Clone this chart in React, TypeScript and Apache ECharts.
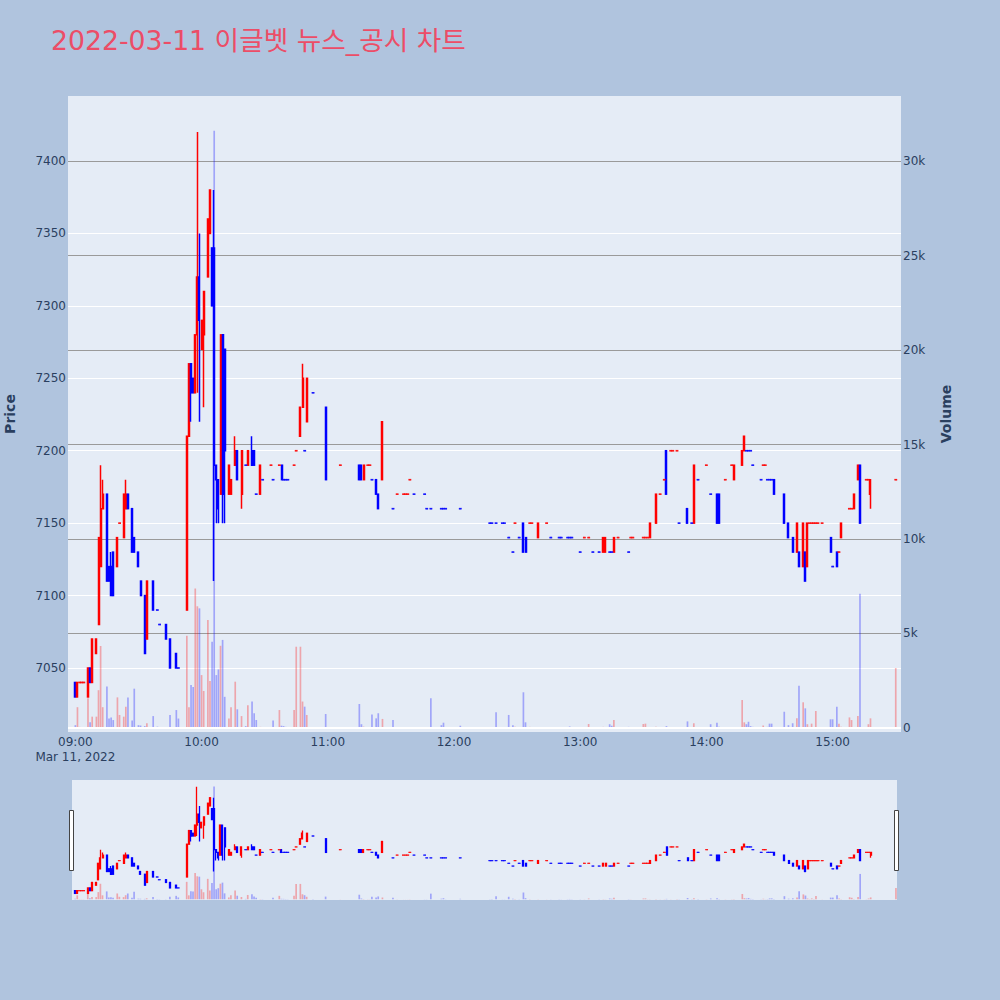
import * as echarts from 'echarts';
import { useEffect, useRef } from 'react';

const TITLE = '2022-03-11 이글벳 뉴스_공시 차트';
const DATE_LABEL = 'Mar 11, 2022';

// minute offset from 09:00 for every traded minute
const minuteIdx = [
  0, 1, 2, 3, 4, 6, 7, 8, 10, 11,
  12, 13, 15, 16, 17, 18, 20, 21, 23, 24,
  25, 27, 28, 30, 31, 33, 34, 37, 39, 40,
  43, 45, 48, 49, 53, 54, 55, 56, 57, 58,
  59, 60, 61, 63, 64, 65, 66, 67, 68, 69,
  70, 71, 73, 74, 76, 77, 79, 81, 82, 84,
  85, 86, 88, 89, 93, 94, 97, 98, 99, 100,
  101, 104, 105, 107, 108, 109, 110, 113, 119, 126,
  135, 136, 137, 139, 140, 141, 143, 144, 146, 151,
  153, 156, 157, 158, 159, 161, 166, 167, 169, 174,
  175, 176, 183, 197, 198, 200, 203, 204, 206, 208,
  209, 211, 213, 214, 216, 217, 220, 224, 226, 230,
  231, 234, 235, 236, 240, 242, 244, 246, 249, 251,
  252, 254, 255, 256, 258, 263, 264, 265, 270, 271,
  272, 273, 276, 278, 280, 281, 283, 284, 286, 287,
  291, 293, 294, 296, 300, 302, 305, 306, 309, 312,
  313, 317, 318, 319, 320, 321, 322, 326, 327, 328,
  329, 330, 331, 332, 337, 339, 341, 343, 344, 346,
  347, 348, 349, 350, 351, 352, 353, 355, 359, 360,
  362, 363, 364, 368, 369, 370, 372, 373, 376, 377, 378, 390,
];

const openP = [
  7040, 7030, 7040, 7040, 7040, 7030, 7050, 7040, 7060, 7080,
  7120, 7160, 7170, 7120, 7120, 7130, 7120, 7150, 7140, 7160,
  7170, 7160, 7140, 7130, 7110, 7100, 7070, 7110, 7090, 7080,
  7080, 7070, 7060, 7050, 7090, 7210, 7260, 7250, 7240, 7280,
  7320, 7270, 7280, 7320, 7350, 7340, 7340, 7190, 7180, 7170,
  7280, 7270, 7170, 7170, 7190, 7200, 7170, 7190, 7190, 7200,
  7200, 7170, 7170, 7180, 7190, 7180, 7190, 7190, 7180, 7180,
  7180, 7190, 7200, 7210, 7230, 7200, 7220, 7240, 7230, 7190,
  7190, 7190, 7180, 7190, 7190, 7180, 7180, 7170, 7180, 7160,
  7170, 7170, 7170, 7170, 7180, 7170, 7170, 7160, 7160, 7160,
  7160, 7160, 7160, 7150, 7150, 7150, 7150, 7150, 7140, 7130,
  7150, 7140, 7150, 7140, 7150, 7150, 7140, 7150, 7140, 7140,
  7140, 7140, 7140, 7140, 7130, 7140, 7140, 7130, 7130, 7130,
  7130, 7130, 7130, 7130, 7140, 7130, 7140, 7140, 7140, 7140,
  7140, 7140, 7150, 7170, 7180, 7200, 7200, 7200, 7200, 7150,
  7160, 7150, 7150, 7180, 7190, 7170, 7170, 7170, 7180, 7190,
  7180, 7190, 7200, 7200, 7200, 7200, 7190, 7180, 7190, 7190,
  7180, 7180, 7180, 7180, 7170, 7150, 7140, 7130, 7130, 7120,
  7130, 7120, 7150, 7150, 7150, 7150, 7150, 7150, 7140, 7120,
  7130, 7130, 7140, 7160, 7160, 7160, 7180, 7190, 7180, 7180, 7170, 7180,
];

const closeP = [
  7030, 7040, 7040, 7040, 7040, 7050, 7040, 7070, 7070, 7140,
  7160, 7170, 7110, 7110, 7100, 7100, 7140, 7150, 7170, 7170,
  7160, 7130, 7130, 7120, 7100, 7060, 7110, 7090, 7090, 7080,
  7070, 7050, 7050, 7050, 7210, 7260, 7240, 7240, 7280, 7320,
  7290, 7290, 7310, 7360, 7380, 7300, 7190, 7180, 7160, 7280,
  7170, 7200, 7190, 7180, 7200, 7180, 7200, 7190, 7200, 7190,
  7190, 7170, 7190, 7180, 7190, 7180, 7190, 7180, 7180, 7180,
  7180, 7190, 7200, 7230, 7250, 7200, 7250, 7240, 7180, 7190,
  7180, 7180, 7190, 7190, 7190, 7180, 7170, 7160, 7220, 7160,
  7170, 7170, 7170, 7170, 7180, 7170, 7170, 7160, 7160, 7160,
  7160, 7160, 7160, 7150, 7150, 7150, 7150, 7150, 7140, 7130,
  7150, 7140, 7130, 7130, 7150, 7150, 7150, 7150, 7140, 7140,
  7140, 7140, 7140, 7140, 7130, 7140, 7140, 7130, 7130, 7140,
  7140, 7130, 7130, 7140, 7140, 7130, 7140, 7140, 7140, 7140,
  7140, 7150, 7170, 7170, 7180, 7170, 7200, 7200, 7200, 7150,
  7150, 7150, 7190, 7180, 7190, 7170, 7150, 7150, 7180, 7190,
  7190, 7200, 7210, 7200, 7200, 7200, 7190, 7180, 7190, 7190,
  7180, 7180, 7180, 7170, 7150, 7140, 7130, 7150, 7120, 7150,
  7110, 7150, 7150, 7150, 7150, 7150, 7150, 7150, 7130, 7120,
  7120, 7130, 7150, 7160, 7160, 7170, 7190, 7150, 7180, 7180, 7180, 7180,
];

const lowP = [
  7030, 7030, 7040, 7040, 7040, 7030, 7040, 7040, 7060, 7080,
  7120, 7160, 7110, 7110, 7100, 7100, 7120, 7150, 7140, 7160,
  7160, 7130, 7130, 7120, 7100, 7060, 7070, 7090, 7090, 7080,
  7070, 7050, 7050, 7050, 7090, 7210, 7220, 7240, 7240, 7240,
  7220, 7270, 7230, 7320, 7350, 7300, 7110, 7150, 7150, 7170,
  7150, 7150, 7170, 7170, 7190, 7180, 7160, 7190, 7190, 7190,
  7190, 7170, 7170, 7180, 7190, 7180, 7190, 7180, 7180, 7180,
  7180, 7190, 7200, 7210, 7230, 7200, 7220, 7240, 7180, 7190,
  7180, 7180, 7180, 7190, 7190, 7180, 7170, 7160, 7180, 7160,
  7170, 7170, 7170, 7170, 7180, 7170, 7170, 7160, 7160, 7160,
  7160, 7160, 7160, 7150, 7150, 7150, 7150, 7150, 7140, 7130,
  7150, 7140, 7130, 7130, 7150, 7150, 7140, 7150, 7140, 7140,
  7140, 7140, 7140, 7140, 7130, 7140, 7140, 7130, 7130, 7130,
  7130, 7130, 7130, 7130, 7140, 7130, 7140, 7140, 7140, 7140,
  7140, 7140, 7150, 7170, 7180, 7170, 7200, 7200, 7200, 7150,
  7150, 7150, 7150, 7180, 7190, 7170, 7150, 7150, 7180, 7190,
  7180, 7190, 7200, 7200, 7200, 7200, 7190, 7180, 7190, 7190,
  7180, 7180, 7180, 7170, 7150, 7140, 7130, 7130, 7120, 7120,
  7110, 7120, 7150, 7150, 7150, 7150, 7150, 7150, 7130, 7120,
  7120, 7130, 7140, 7160, 7160, 7160, 7180, 7150, 7180, 7180, 7160, 7180,
];

const highP = [
  7040, 7040, 7040, 7040, 7040, 7050, 7050, 7070, 7070, 7140,
  7190, 7180, 7170, 7120, 7130, 7130, 7140, 7150, 7170, 7180,
  7170, 7160, 7140, 7130, 7110, 7100, 7110, 7110, 7090, 7080,
  7080, 7070, 7060, 7050, 7210, 7260, 7260, 7250, 7280, 7420,
  7350, 7290, 7310, 7360, 7380, 7340, 7380, 7190, 7180, 7280,
  7280, 7270, 7190, 7180, 7210, 7200, 7200, 7190, 7200, 7210,
  7200, 7170, 7190, 7180, 7190, 7180, 7190, 7190, 7180, 7180,
  7180, 7190, 7200, 7230, 7260, 7200, 7250, 7240, 7230, 7190,
  7190, 7190, 7190, 7190, 7190, 7180, 7180, 7170, 7220, 7160,
  7170, 7170, 7170, 7170, 7180, 7170, 7170, 7160, 7160, 7160,
  7160, 7160, 7160, 7150, 7150, 7150, 7150, 7150, 7140, 7130,
  7150, 7140, 7150, 7140, 7150, 7150, 7150, 7150, 7140, 7140,
  7140, 7140, 7140, 7140, 7130, 7140, 7140, 7130, 7130, 7140,
  7140, 7130, 7130, 7140, 7140, 7130, 7140, 7140, 7140, 7140,
  7140, 7150, 7170, 7170, 7180, 7200, 7200, 7200, 7200, 7150,
  7160, 7150, 7190, 7180, 7190, 7170, 7170, 7170, 7180, 7190,
  7190, 7200, 7210, 7200, 7200, 7200, 7190, 7180, 7190, 7190,
  7180, 7180, 7180, 7180, 7170, 7150, 7140, 7150, 7130, 7150,
  7130, 7150, 7150, 7150, 7150, 7150, 7150, 7150, 7140, 7120,
  7130, 7130, 7150, 7160, 7160, 7170, 7190, 7190, 7180, 7180, 7180, 7180,
];

const volume = [
  150, 1100, 60, 50, 40, 1570, 300, 600, 600, 2000,
  4340, 1100, 2200, 500, 550, 420, 1620, 690, 600, 1130,
  1620, 400, 2080, 150, 130, 100, 250, 630, 70, 50,
  40, 690, 950, 500, 4880, 1100, 2270, 2170, 7380, 6440,
  6330, 2800, 1960, 5720, 2480, 4560, 31600, 2800, 3100, 4350,
  4660, 1650, 500, 1100, 2450, 990, 630, 100, 1200, 1400,
  780, 420, 60, 50, 30, 390, 950, 120, 100, 60,
  40, 950, 4300, 4300, 1400, 1130, 690, 40, 740, 30,
  1270, 200, 70, 40, 30, 720, 510, 780, 480, 420,
  30, 20, 20, 20, 40, 30, 30, 30, 1570, 150,
  280, 30, 120, 50, 40, 830, 30, 30, 690, 150,
  60, 40, 1890, 300, 60, 30, 40, 30, 30, 50,
  30, 50, 80, 40, 40, 30, 210, 30, 40, 60,
  30, 200, 120, 420, 30, 60, 30, 30, 210, 230,
  30, 40, 60, 30, 40, 100, 30, 30, 40, 40,
  350, 50, 250, 40, 40, 200, 280, 60, 40, 40,
  40, 1480, 300, 200, 330, 100, 60, 30, 130, 30,
  60, 230, 230, 40, 860, 150, 250, 510, 2240, 1360,
  1040, 200, 60, 230, 40, 900, 30, 30, 460, 460,
  1130, 230, 60, 560, 420, 40, 630, 7100, 40, 200, 510, 3170,
];

const UP = '#ff0000';
const DOWN = '#0000ff';
const UP_VOL = 'rgba(255,0,0,0.3)';
const DOWN_VOL = 'rgba(0,0,255,0.3)';
const TEXT = '#2a3f5f';
const FONT = "'DejaVu Sans', 'Noto Sans CJK KR', sans-serif";

const pad = (n: number) => String(n).padStart(2, '0');

function minuteCats(startOffset: number, count: number) {
  const out: string[] = [];
  for (let i = 0; i < count; i++) {
    const t = 9 * 60 + startOffset + i;
    out.push(`${pad(Math.floor(t / 60))}:${pad(t % 60)}`);
  }
  return out;
}

// main plot: 08:57 .. 15:32, range slider: 08:59 .. 15:30
const mainCats = minuteCats(-3, 396);
const sliderCats = minuteCats(-1, 392);

export default function App() {
  const chartRef = useRef<HTMLDivElement>(null);

  useEffect(() => {
    if (!chartRef.current) return;
    const chart = echarts.init(chartRef.current, undefined, { renderer: 'svg' });

    // plotly-style direction: flat candles follow the previous close
    const ups: boolean[] = [];
    let prevClose: number | null = null;
    let prevUp = true;
    minuteIdx.forEach((_m, i) => {
      const o = openP[i];
      const c = closeP[i];
      let up: boolean;
      if (c > o) up = true;
      else if (c < o) up = false;
      else if (prevClose === null) up = true;
      else if (c > prevClose) up = true;
      else if (c < prevClose) up = false;
      else up = prevUp;
      prevClose = c;
      prevUp = up;
      ups.push(up);
    });

    const build = (cats: string[], shift: number) => {
      const candles: any[] = cats.map(() => '-');
      const vols: any[] = cats.map(() => '-');
      const flats: any[] = [];
      minuteIdx.forEach((m, i) => {
        const col = ups[i] ? UP : DOWN;
        const k = m + shift;
        candles[k] = {
          value: [openP[i], closeP[i], lowP[i], highP[i]],
          itemStyle: { color: col, color0: col, borderColor: col, borderColor0: col },
        };
        vols[k] = { value: volume[i], itemStyle: { color: ups[i] ? UP_VOL : DOWN_VOL } };
        if (lowP[i] === highP[i]) {
          flats.push({ value: [cats[k], closeP[i]], itemStyle: { color: col } });
        }
      });
      return { candles, vols, flats };
    };
    const main = build(mainCats, 3);
    const slider = build(sliderCats, 1);

    const priceMin = 7005.8;
    const priceMax = 7444.9;
    const volMin = -212;
    const volMax = 33440;

    chart.setOption({
      animation: false,
      backgroundColor: '#b0c4de',
      title: {
        text: TITLE,
        left: 51,
        top: 27,
        padding: 0,
        textStyle: { color: '#ec4d67', fontSize: 26.7, fontWeight: 'normal', fontFamily: FONT },
      },
      graphic: [
        { type: 'rect', shape: { x: 69.5, y: 810.5, width: 4, height: 60 }, style: { fill: '#fff', stroke: '#444', lineWidth: 1 }, z: 10 },
        { type: 'rect', shape: { x: 894.5, y: 810.5, width: 4, height: 60 }, style: { fill: '#fff', stroke: '#444', lineWidth: 1 }, z: 10 },
      ],
      grid: [
        {
          left: 68, right: 99, top: 96, height: 636,
          show: true, backgroundColor: '#e5ecf6', borderWidth: 0,
          outerBoundsMode: 'none', containLabel: false,
        },
        {
          left: 72, right: 103, top: 780, height: 120,
          show: true, backgroundColor: '#e5ecf6', borderWidth: 0,
          outerBoundsMode: 'none', containLabel: false,
        },
      ],
      xAxis: [
        {
          type: 'category',
          gridIndex: 0,
          data: mainCats,
          boundaryGap: true,
          axisLine: { show: false },
          axisTick: { show: false },
          splitLine: { show: false },
          axisLabel: {
            interval: (_i: number, v: string) => v.endsWith(':00'),
            formatter: (v: string) => (v === '09:00' ? `09:00\n${DATE_LABEL}` : v),
            color: TEXT,
            fontFamily: FONT,
            fontSize: 12,
            margin: 2,
            lineHeight: 15,
          },
        },
        { type: 'category', gridIndex: 1, data: sliderCats, boundaryGap: true, show: false },
      ],
      yAxis: [
        {
          type: 'value',
          gridIndex: 0,
          position: 'left',
          min: priceMin,
          max: priceMax,
          splitNumber: 9,
          minInterval: 50,
          maxInterval: 50,
          name: 'Price',
          nameLocation: 'middle',
          nameRotate: 90,
          nameGap: 51,
          nameTextStyle: { color: TEXT, fontWeight: 'bold', fontSize: 14, fontFamily: FONT },
          axisLine: { show: false },
          axisTick: { show: false },
          axisLabel: {
            color: TEXT,
            fontFamily: FONT,
            fontSize: 12,
            margin: 2,
            formatter: (v: number) => (Math.abs(v % 50) < 1e-6 ? String(v) : ''),
          },
          splitLine: {
            showMinLine: false,
            showMaxLine: false,
            lineStyle: { color: '#ffffff', width: 1 },
          },
        },
        {
          type: 'value',
          gridIndex: 0,
          position: 'right',
          min: volMin,
          max: volMax,
          splitNumber: 7,
          minInterval: 5000,
          maxInterval: 5000,
          name: 'Volume',
          nameLocation: 'middle',
          nameRotate: 90,
          nameGap: 38,
          nameTextStyle: { color: TEXT, fontWeight: 'bold', fontSize: 14, fontFamily: FONT },
          axisLine: { show: false },
          axisTick: { show: false },
          axisLabel: {
            color: TEXT,
            fontFamily: FONT,
            fontSize: 12,
            margin: 2,
            formatter: (v: number) =>
              Math.abs(v % 5000) < 1e-6 ? (v === 0 ? '0' : `${v / 1000}k`) : '',
          },
          splitLine: {
            showMinLine: false,
            showMaxLine: false,
            lineStyle: { color: '#9a9a9a', width: 1 },
          },
        },
        { type: 'value', gridIndex: 1, min: priceMin, max: priceMax, show: false, splitLine: { show: false } },
        { type: 'value', gridIndex: 1, min: volMin, max: volMax, show: false, splitLine: { show: false } },
      ],
      series: [
        {
          type: 'candlestick',
          xAxisIndex: 0,
          yAxisIndex: 0,
          data: main.candles,
          barWidth: 1.5,
          itemStyle: { borderWidth: 1.5 },
        },
        {
          type: 'scatter',
          xAxisIndex: 0,
          yAxisIndex: 0,
          data: main.flats,
          symbol: 'rect',
          symbolSize: [3, 1.6],
        },
        {
          type: 'bar',
          xAxisIndex: 0,
          yAxisIndex: 1,
          data: main.vols,
          barWidth: '80%',
          markLine: {
            silent: true,
            symbol: ['none', 'none'],
            label: { show: false },
            lineStyle: { color: '#ffffff', width: 2, type: 'solid' },
            data: [{ yAxis: 0 }],
          },
        },
        {
          type: 'candlestick',
          xAxisIndex: 1,
          yAxisIndex: 2,
          data: slider.candles,
          barWidth: 1.5,
          itemStyle: { borderWidth: 1.3 },
        },
        {
          type: 'scatter',
          xAxisIndex: 1,
          yAxisIndex: 2,
          data: slider.flats,
          symbol: 'rect',
          symbolSize: [3, 1.2],
        },
        {
          type: 'bar',
          xAxisIndex: 1,
          yAxisIndex: 3,
          data: slider.vols,
          barWidth: '80%',
        },
      ],
    });

    return () => {
      chart.dispose();
    };
  }, []);

  return (
    <div
      ref={chartRef}
      style={{ position: 'fixed', left: 0, top: 0, width: 1000, height: 1000 }}
    />
  );
}
